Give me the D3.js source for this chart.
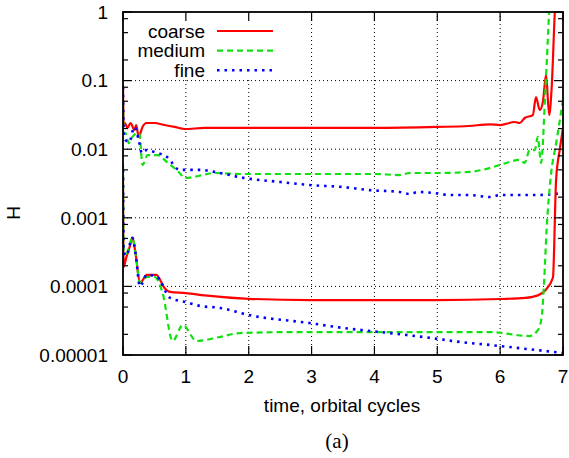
<!DOCTYPE html>
<html>
<head>
<meta charset="utf-8">
<script src="https://cdn.jsdelivr.net/npm/d3@7"></script>
<style>
  html, body { margin: 0; padding: 0; background: #fff; }
  svg { display: block; }
  text { font-family: "Liberation Sans", Arial, Helvetica, sans-serif; fill: #000; }
</style>
</head>
<body>
<svg id="chart" width="569" height="458"></svg>
<script>
// H versus time for three grid resolutions; two families of curves each.
const xTicks = [0, 1, 2, 3, 4, 5, 6, 7];
const yTicks = [1, 0.1, 0.01, 0.001, 0.0001, 0.00001];
const yTickLabels = ["1", "0.1", "0.01", "0.001", "0.0001", "0.00001"];
const seriesNames = ["coarse", "medium", "fine"];
const seriesColors = ["#ff0000", "#11e011", "#0000ff"];

// upper family
const coarseUpper = [
  [0, 0.086], [0.01, 0.0225], [0.03, 0.0241], [0.07, 0.0204], [0.12, 0.0241],
  [0.18, 0.0191], [0.21, 0.0225], [0.25, 0.0151], [0.31, 0.0211], [0.37, 0.0241],
  [0.5, 0.0241], [0.66, 0.0225], [0.82, 0.0211], [0.98, 0.0197], [1.3, 0.0204],
  [2, 0.0204], [3, 0.0204], [4, 0.0204], [5, 0.0211], [5.5, 0.0218], [5.84, 0.023],
  [6.0, 0.0225], [6.23, 0.0249], [6.31, 0.0241], [6.39, 0.0285], [6.52, 0.0315],
  [6.57, 0.0577], [6.63, 0.0373], [6.68, 0.0488], [6.73, 0.121], [6.78, 0.0315],
  [6.82, 0.08], [6.87, 1.0], [6.9, 3.0]
];
const mediumUpper = [
  [0, 0.05], [0.01, 0.0172], [0.04, 0.0172], [0.09, 0.0123], [0.15, 0.0151],
  [0.22, 0.0172], [0.26, 0.0172], [0.31, 0.0059], [0.39, 0.0082], [0.55, 0.0082],
  [0.7, 0.0065], [0.9, 0.0045], [0.98, 0.0038], [1.2, 0.00407], [1.45, 0.0045],
  [1.86, 0.00435], [2.8, 0.00435], [4.0, 0.00435], [4.4, 0.0042], [4.56, 0.0045],
  [5.05, 0.0045], [5.5, 0.00466], [5.83, 0.0053], [6.0, 0.0059], [6.32, 0.007],
  [6.39, 0.0063], [6.47, 0.0097], [6.55, 0.0097], [6.6, 0.0151], [6.65, 0.0063],
  [6.72, 0.073], [6.78, 1.0], [6.8, 2.0]
];
const fineUpper = [
  [0, 0.08], [0.01, 0.0172], [0.04, 0.0136], [0.1, 0.0127], [0.18, 0.0211],
  [0.25, 0.0136], [0.3, 0.0088], [0.35, 0.0097], [0.5, 0.0091], [0.7, 0.0077],
  [0.9, 0.005], [1.0, 0.005], [1.22, 0.005], [1.54, 0.0045], [1.93, 0.0038],
  [2.5, 0.00333], [2.97, 0.003], [3.5, 0.00281], [3.9, 0.00254], [4.4, 0.00238],
  [4.56, 0.00222], [4.7, 0.00238], [4.95, 0.0023], [5.2, 0.00215], [5.5, 0.00215],
  [5.84, 0.00201], [6.0, 0.00215], [6.6, 0.00215], [7.0, 0.0023]
];

// lower family
const coarseLower = [
  [0, 0.004], [0.01, 0.000192], [0.05, 0.00026], [0.1, 0.00036], [0.15, 0.00051],
  [0.2, 0.0003], [0.27, 0.000112], [0.38, 0.000147], [0.53, 0.000147], [0.66, 0.000095],
  [0.75, 0.000083], [1.0, 0.00008], [1.3, 0.000074], [2.0, 0.000066], [3.0, 0.000063],
  [4.0, 0.000063], [5.0, 0.000063], [6.0, 0.0000655], [6.4, 0.000068], [6.6, 0.000074],
  [6.72, 0.000088], [6.84, 0.000135], [6.89, 0.00356], [6.95, 0.01], [7.0, 0.0204]
];
const mediumLower = [
  [0, 0.006], [0.01, 0.00034], [0.05, 0.0003], [0.15, 0.00051], [0.2, 0.0003],
  [0.27, 0.000112], [0.38, 0.000137], [0.5, 0.000137], [0.63, 0.00008], [0.79, 0.000016],
  [0.95, 0.0000274], [1.17, 0.000016], [1.54, 0.0000183], [1.86, 0.0000209],
  [2.8, 0.0000216], [4.4, 0.0000216], [5.84, 0.0000216], [6.47, 0.0000189],
  [6.6, 0.000023], [6.66, 0.000035], [6.7, 0.00012], [6.74, 0.0007], [6.8, 0.00356],
  [6.9, 0.0136], [7.0, 0.0522]
];
const fineLower = [
  [0, 0.005], [0.01, 0.00034], [0.05, 0.00028], [0.15, 0.00051], [0.2, 0.0003],
  [0.27, 0.0001], [0.38, 0.000147], [0.53, 0.00014], [0.75, 0.000068], [1.0, 0.000059],
  [1.22, 0.000052], [1.55, 0.0000485], [2.0, 0.0000383], [2.97, 0.0000292],
  [3.5, 0.0000248], [4.1, 0.0000216], [4.9, 0.0000177], [5.36, 0.0000155],
  [5.84, 0.000014], [6.0, 0.0000135], [7.0, 0.0000107]
];

const margin = { left: 123, right: 6, top: 12, bottom: 103 };
const W = 569, H = 458;
const x0 = margin.left, x1 = W - margin.right;
const y0 = margin.top, y1 = H - margin.bottom;

const svg = d3.select("#chart");
const x = d3.scaleLinear().domain([0, 7]).range([x0, x1]);
const y = d3.scaleLog().domain([1e-5, 1]).range([y1, y0]);

// dotted grid
const grid = svg.append("g").attr("stroke", "#000").attr("stroke-width", 1)
  .attr("stroke-dasharray", "1,3");
grid.selectAll("line.gx").data(xTicks.slice(1, -1)).join("line")
  .attr("x1", d => x(d)).attr("x2", d => x(d)).attr("y1", y0).attr("y2", y1);
grid.selectAll("line.gy").data(yTicks.slice(1, -1)).join("line")
  .attr("y1", d => y(d)).attr("y2", d => y(d)).attr("x1", x0).attr("x2", x1);

// key background hides the grid behind it
svg.append("rect").attr("x", x0 + 2).attr("y", y0 + 1).attr("width", 162).attr("height", 66)
  .attr("fill", "#fff");

// data
svg.append("clipPath").attr("id", "plotclip").append("rect")
  .attr("x", x0).attr("y", y0).attr("width", x1 - x0).attr("height", y1 - y0);
const line = d3.line().x(d => x(d[0])).y(d => y(d[1])).curve(d3.curveMonotoneX);
const dashes = [null, "6,4", "2.5,5"];
const widths = [2.2, 2.2, 2.6];
const groups = [
  [coarseUpper, mediumUpper, fineUpper],
  [coarseLower, mediumLower, fineLower]
];
const plot = svg.append("g").attr("clip-path", "url(#plotclip)");
groups.forEach(set => {
  set.forEach((data, i) => {
    plot.append("path").datum(data)
      .attr("d", line)
      .attr("fill", "none")
      .attr("stroke", seriesColors[i])
      .attr("stroke-width", widths[i])
      .attr("stroke-dasharray", dashes[i])
      .attr("stroke-linejoin", "round");
  });
});

// ticks: major and minor, inward, on all sides
const tk = svg.append("g").attr("stroke", "#000").attr("stroke-width", 1.2);
const minor = [];
for (let e = -5; e < 0; e++) [2, 5, 8].forEach(m => minor.push(m * Math.pow(10, e)));
yTicks.forEach(v => {
  tk.append("line").attr("x1", x0).attr("x2", x0 + 9).attr("y1", y(v)).attr("y2", y(v));
  tk.append("line").attr("x1", x1).attr("x2", x1 - 9).attr("y1", y(v)).attr("y2", y(v));
});
minor.forEach(v => {
  tk.append("line").attr("x1", x0).attr("x2", x0 + 5).attr("y1", y(v)).attr("y2", y(v));
  tk.append("line").attr("x1", x1).attr("x2", x1 - 5).attr("y1", y(v)).attr("y2", y(v));
});
xTicks.forEach(v => {
  tk.append("line").attr("x1", x(v)).attr("x2", x(v)).attr("y1", y1).attr("y2", y1 - 9);
  tk.append("line").attr("x1", x(v)).attr("x2", x(v)).attr("y1", y0).attr("y2", y0 + 9);
});

// frame
svg.append("rect").attr("x", x0).attr("y", y0).attr("width", x1 - x0).attr("height", y1 - y0)
  .attr("fill", "none").attr("stroke", "#000").attr("stroke-width", 1.8);

// tick labels
const fs = 19;
svg.append("g").selectAll("text").data(yTicks).join("text")
  .attr("x", x0 - 15).attr("y", d => y(d)).attr("dy", "0.36em")
  .attr("text-anchor", "end").attr("font-size", fs)
  .text((d, i) => yTickLabels[i]);
svg.append("g").selectAll("text").data(xTicks).join("text")
  .attr("x", d => x(d)).attr("y", y1 + 28)
  .attr("text-anchor", "middle").attr("font-size", fs)
  .text(d => d);

// axis titles
svg.append("text").attr("x", (x0 + x1) / 2 - 1).attr("y", y1 + 57)
  .attr("text-anchor", "middle").attr("font-size", fs).text("time, orbital cycles");
svg.append("text").attr("transform", "translate(20,213) rotate(-90)")
  .attr("text-anchor", "middle").attr("font-size", fs).text("H");
svg.append("text").attr("x", 337).attr("y", 448)
  .attr("text-anchor", "middle").attr("font-size", 21)
  .style("font-family", "'Liberation Serif', 'Times New Roman', serif").text("(a)");

// key
const key = svg.append("g");
seriesNames.forEach((name, i) => {
  const ly = 31 + i * 19.6;
  key.append("text").attr("x", 205).attr("y", ly).attr("dy", "0.36em")
    .attr("text-anchor", "end").attr("font-size", fs).text(name);
  key.append("line").attr("x1", 217).attr("x2", 273).attr("y1", ly).attr("y2", ly)
    .attr("stroke", seriesColors[i]).attr("stroke-width", widths[i])
    .attr("stroke-dasharray", dashes[i]);
});
</script>
</body>
</html>
